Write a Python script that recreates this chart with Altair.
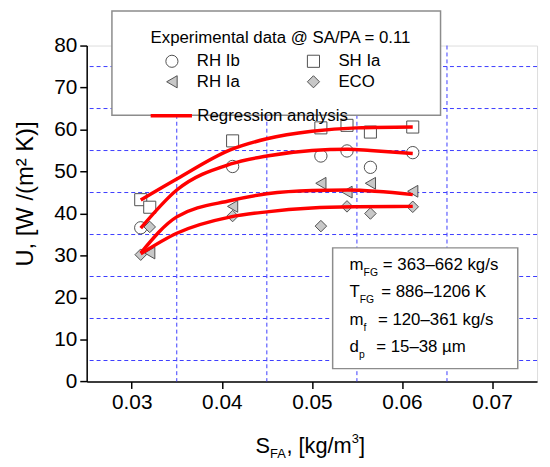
import altair as alt
import pandas as pd

FONT = "Liberation Sans"

# ---------------- data ----------------
open_order = ["RH Ib", "SH Ia"]
open_shapes = ["circle", "square"]
filled_order = ["RH Ia", "ECO"]
filled_shapes = ["triangle-left", "diamond"]
all_order = ["RH Ib", "SH Ia", "RH Ia", "ECO"]
all_sizes = [155, 135, 165, 210]
gray_fill = "#c8c8c8"
edge = "#505050"

rh_ib_x = [0.031, 0.0412, 0.051, 0.0539, 0.0565, 0.0612]
rh_ib_u = [36.6, 51.2, 53.7, 54.9, 51.0, 54.5]
sh_ia_x = [0.031, 0.032, 0.0412, 0.051, 0.0539, 0.0565, 0.0612]
sh_ia_u = [43.3, 41.5, 57.3, 60.4, 61.0, 59.4, 60.6]
rh_ia_x = [0.032, 0.0412, 0.051, 0.0539, 0.0565, 0.0612]
rh_ia_u = [30.6, 41.7, 47.2, 45.1, 47.2, 45.3]
eco_x = [0.031, 0.032, 0.0412, 0.051, 0.0539, 0.0565, 0.0612]
eco_u = [30.2, 36.8, 39.4, 37.0, 41.7, 40.0, 41.6]

# regression curves
fit_sh_x = [0.031, 0.035, 0.041, 0.045, 0.050, 0.055, 0.0612]
fit_sh_u = [43.2, 48.2, 55.2, 57.8, 59.6, 60.4, 60.6]
fit_rhb_x = [0.031, 0.035, 0.041, 0.045, 0.050, 0.054, 0.0565, 0.0612]
fit_rhb_u = [36.5, 45.6, 51.8, 53.7, 55.0, 55.3, 55.0, 54.3]
fit_rha_x = [0.031, 0.035, 0.041, 0.045, 0.050, 0.054, 0.0612]
fit_rha_u = [30.6, 39.2, 43.1, 44.7, 45.5, 45.6, 44.5]
fit_eco_x = [0.031, 0.035, 0.041, 0.045, 0.050, 0.055, 0.0612]
fit_eco_u = [30.4, 35.3, 39.2, 40.4, 41.3, 41.6, 41.7]

x_ticks = [0.03, 0.04, 0.05, 0.06, 0.07]
y_ticks = [0, 10, 20, 30, 40, 50, 60, 70, 80]
x_grid = [0.035, 0.045, 0.055, 0.065]
y_grid = [5, 15, 25, 35, 45, 55, 65, 75]

legend_title = "Experimental data @ SA/PA = 0.11"
fit_label = "Regression analysis"
box_main = ["m", "T", "m", "d"]
box_sub = ["FG", "FG", "f", "p"]
box_rest = ["= 363\u2013662 kg/s", "= 886\u20131206 K", "= 120\u2013361 kg/s", "= 15\u201338 \u00b5m"]

# ---------------- tables ----------------
def table(pairs):
    rows = []
    for name, xs, us in pairs:
        for xv, uv in zip(xs, us):
            rows.append({"series": name, "S": xv, "U": uv})
    return pd.DataFrame(rows)

open_pts = table([("RH Ib", rh_ib_x, rh_ib_u), ("SH Ia", sh_ia_x, sh_ia_u)])
filled_pts = table([("RH Ia", rh_ia_x, rh_ia_u), ("ECO", eco_x, eco_u)])

frows = []
for cid, xs, us in [("sh", fit_sh_x, fit_sh_u), ("rhb", fit_rhb_x, fit_rhb_u),
                    ("rha", fit_rha_x, fit_rha_u), ("eco", fit_eco_x, fit_eco_u)]:
    for i, (xv, uv) in enumerate(zip(xs, us)):
        frows.append({"curve": cid, "S": xv, "U": uv, "ord": i, "label": fit_label})
fits = pd.DataFrame(frows)

x_scale = alt.Scale(domain=[0.025, 0.075], nice=False, zero=False)
y_scale = alt.Scale(domain=[0, 80], nice=False, zero=False)

axis_common = dict(title=None, grid=False, tickSize=7, tickWidth=1.5, domainWidth=1.5,
                   domainColor="black", tickColor="black", labelColor="black",
                   labelFont=FONT, labelFontSize=21, labelPadding=3)
x_axis = alt.Axis(values=x_ticks, format=".2f", **axis_common)
y_axis = alt.Axis(values=y_ticks, format="d", **axis_common)

X = lambda: alt.X("S:Q", scale=x_scale, axis=x_axis)
Y = lambda: alt.Y("U:Q", scale=y_scale, axis=y_axis)
SIZE = lambda: alt.Size("series:N", scale=alt.Scale(domain=all_order, range=all_sizes), legend=None)

grid_color = "#3c3cff"
vgrid = alt.Chart(pd.DataFrame({"S": x_grid})).mark_rule(
    color=grid_color, strokeDash=[4, 3], strokeWidth=1).encode(x=X())
hgrid = alt.Chart(pd.DataFrame({"U": y_grid})).mark_rule(
    color=grid_color, strokeDash=[4, 3], strokeWidth=1).encode(y=Y())

def sym_legend(ly):
    return alt.Legend(title=None, orient="none", legendX=77.6, legendY=ly, columns=2,
                      columnPadding=65, symbolSize=150, symbolStrokeWidth=1,
                      labelFont=FONT, labelFontSize=17, labelColor="black",
                      labelOffset=16.7, padding=0)

open_layer = alt.Chart(open_pts).mark_point(
    filled=True, fill="white", stroke=edge, strokeWidth=1, opacity=1).encode(
    x=X(), y=Y(), size=SIZE(),
    shape=alt.Shape("series:N", scale=alt.Scale(domain=open_order, range=open_shapes),
                    legend=sym_legend(7.2)),
)
filled_layer = alt.Chart(filled_pts).mark_point(
    filled=True, fill=gray_fill, stroke=edge, strokeWidth=1, opacity=1).encode(
    x=X(), y=Y(), size=SIZE(),
    shape=alt.Shape("series:N", title="grp", scale=alt.Scale(domain=filled_order, range=filled_shapes),
                    legend=sym_legend(27.9)),
)

line_legend = alt.Legend(title=None, orient="none", legendX=62.5, legendY=47.9,
                         symbolType="stroke", symbolSize=1739, symbolStrokeWidth=3.5,
                         labelFont=FONT, labelFontSize=17, labelColor="black",
                         labelOffset=3.3, padding=0)

lines = alt.Chart(fits).mark_line(strokeWidth=3.5, interpolate="monotone").encode(
    x=X(), y=Y(), detail="curve:N", order="ord:Q",
    color=alt.Color("label:N", scale=alt.Scale(domain=[fit_label], range=["#ff0000"]), legend=line_legend),
)

one = pd.DataFrame({"k": [0]})

def box(x1, x2, y1, y2):
    return alt.Chart(one).mark_rect(fill="white", stroke="#8c8c8c", strokeWidth=1.5).encode(
        x=alt.value(x1), x2=alt.value(x2), y=alt.value(y1), y2=alt.value(y2))

def label(txt, x, y, size, align="left", baseline="middle", angle=0):
    return alt.Chart(one).mark_text(text=txt, font=FONT, fontSize=size, color="black",
                                    align=align, baseline=baseline, angle=angle).encode(
        x=alt.value(x), y=alt.value(y))

legend_box = box(25.5, 357.5, -35, 70.4)
stats_box = box(248.5, 435.5, 204.4, 326.4)

texts = [label(legend_title, 64.5, -7.6, 17)]
line_y = [221.4, 249.4, 277.4, 304.4]
sub_x = [279.7, 275.9, 279.7, 275.0]
rest_x = [299.2, 297.5, 294.2, 292.5]
for m, s, r, yy, sx, rx in zip(box_main, box_sub, box_rest, line_y, sub_x, rest_x):
    texts.append(label(m, 265.5, yy, 17))
    texts.append(label(s, sx, yy + 8, 10.5))
    texts.append(label(r, rx, yy, 17))

# axis titles
texts.append(label("U, [W /(m\u00b2 K)]", -61, 150, 24, align="center", angle=270))
texts.append(label("S", 170.5, 411.4, 22, baseline="alphabetic"))
texts.append(label("FA", 185.2, 417, 13, baseline="alphabetic"))
texts.append(label(", [kg/m", 201.8, 411.4, 22, baseline="alphabetic"))
texts.append(label("3", 267.8, 402, 13, baseline="alphabetic"))
texts.append(label("]", 275.0, 411.4, 22, baseline="alphabetic"))

chart = alt.layer(vgrid, hgrid, open_layer, filled_layer, lines, legend_box, stats_box, *texts).resolve_scale(
    shape="independent"
).properties(
    width=455, height=339.4,
    padding={"left": 79.5, "top": 35.6, "right": 5, "bottom": 80},
    autosize=alt.AutoSizeParams(type="none"),
).configure_view(stroke="black", strokeWidth=1.5).configure(background="white")

chart.save("out.html", embed_options={"renderer": "svg", "actions": False})
